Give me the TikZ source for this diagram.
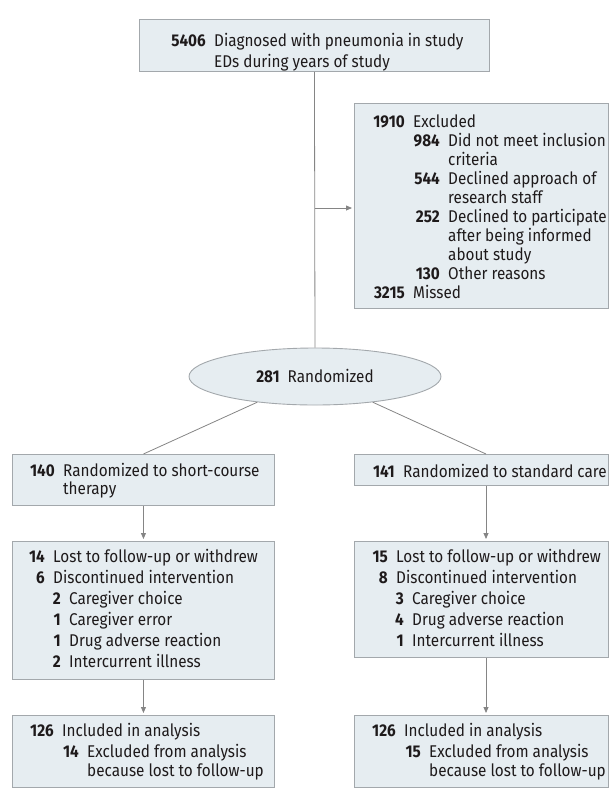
\documentclass[tikz,border=0pt]{standalone}
\usepackage{fontspec}
\setmainfont{Fira Sans}[FakeStretch=0.9]
\usetikzlibrary{arrows.meta,shapes.geometric,calc}
\definecolor{boxfill}{HTML}{E6EDF1}
\definecolor{boxline}{HTML}{A3A8AC}
\definecolor{conn}{HTML}{858585}
\definecolor{txt}{HTML}{1E1A1B}
\tikzset{
  box/.style={draw=boxline, fill=boxfill, line width=0.9pt, rectangle, inner sep=0pt, anchor=north west},
  oval/.style={draw=boxline, fill=boxfill, line width=0.9pt, ellipse, inner sep=0pt, text=txt, font=\fontsize{17}{20}\selectfont},
  numtxt/.style={inner sep=0pt, anchor=base east, text=txt, font=\fontsize{17}{20}\selectfont\bfseries},
  plaintxt/.style={inner sep=0pt, anchor=base west, text=txt, font=\fontsize{17}{20}\selectfont},
  link/.style={draw=conn, line width=0.8pt},
  arr/.style={draw=conn, line width=0.8pt, -{Triangle[length=6pt,width=5pt]}, shorten >=2pt}
}
\newcommand\itemline[5]{%
  \node[numtxt] (#1n) at (#2-8,#3) {#4};
  \node[plaintxt] (#1t) at (#2,#3) {#5};}
\newcommand\contline[4]{%
  \node[plaintxt] (#1) at (#2,#3) {#4};}
\begin{document}
\begin{tikzpicture}[x=1pt,y=-1pt]
\useasboundingbox (0,0) rectangle (610,807);
% boxes
\node[box, minimum width=350pt, minimum height=52pt] (top) at (139,19) {};
\node[box, minimum width=254pt, minimum height=205pt] (excl) at (354,103) {};
\node[oval, minimum width=252pt, minimum height=57pt] (ell) at (315,376.5) {\textbf{281}\hspace{8pt}Randomized};
\node[box, minimum width=262pt, minimum height=51pt] (bl1) at (12,454) {};
\node[box, minimum width=254pt, minimum height=31pt] (br1) at (354,454) {};
\node[box, minimum width=262pt, minimum height=138pt] (bl2) at (12,541) {};
\node[box, minimum width=254pt, minimum height=116pt] (br2) at (354,541) {};
\node[box, minimum width=262pt, minimum height=72pt] (bl3) at (12,715) {};
\node[box, minimum width=254pt, minimum height=72pt] (br3) at (354,715) {};
% connectors
\coordinate (branch) at (315,208);
\coordinate (rcol) at (486,0);
\draw[link] (top.south) -- (ell.north);
\draw[arr] (branch) -- (excl.west |- branch);
\draw[link] (ell.204) -- (bl1.north);
\draw[link] (ell.336) -- (br1.north -| rcol);
\draw[arr] (bl1.south) -- (bl2.north);
\draw[arr] (bl2.south) -- (bl3.north);
\draw[arr] (br1.south -| rcol) -- (br2.north -| rcol);
\draw[arr] (br2.south -| rcol) -- (br3.north -| rcol);
% top text
\itemline{ta}{214}{46}{5406}{Diagnosed with pneumonia in study}
\contline{tb}{214}{67}{EDs during years of study}
% excluded
\itemline{ea}{413}{127}{1910}{Excluded}
\itemline{eb}{448}{146}{984}{Did not meet inclusion}
\contline{ec}{448}{165}{criteria}
\itemline{ed}{448}{184}{544}{Declined approach of}
\contline{ee}{448}{203}{research staff}
\itemline{ef}{448}{222}{252}{Declined to participate}
\contline{eg}{448}{241}{after being informed}
\contline{eh}{448}{260}{about study}
\itemline{ei}{448}{279}{130}{Other reasons}
\itemline{ej}{413}{298}{3215}{Missed}
% randomized arms
\itemline{la}{63}{476}{140}{Randomized to short-course}
\contline{lb}{63}{494}{therapy}
\itemline{ra}{403}{477}{141}{Randomized to standard care}
% left follow-up
\itemline{lc}{53}{562}{14}{Lost to follow-up or withdrew}
\itemline{ld}{53}{583}{6}{Discontinued intervention}
\itemline{le}{69}{604}{2}{Caregiver choice}
\itemline{lf}{69}{625}{1}{Caregiver error}
\itemline{lg}{69}{646}{1}{Drug adverse reaction}
\itemline{lh}{69}{667}{2}{Intercurrent illness}
% right follow-up
\itemline{rc}{396}{562}{15}{Lost to follow-up or withdrew}
\itemline{rd}{396}{583}{8}{Discontinued intervention}
\itemline{re}{412}{604}{3}{Caregiver choice}
\itemline{rf}{412}{625}{4}{Drug adverse reaction}
\itemline{rg}{412}{646}{1}{Intercurrent illness}
% analysis
\itemline{li}{62}{736}{126}{Included in analysis}
\itemline{lj}{87}{757}{14}{Excluded from analysis}
\contline{lk}{87}{776}{because lost to follow-up}
\itemline{ri}{404}{736}{126}{Included in analysis}
\itemline{rj}{429}{757}{15}{Excluded from analysis}
\contline{rk}{429}{776}{because lost to follow-up}
\end{tikzpicture}
\end{document}
